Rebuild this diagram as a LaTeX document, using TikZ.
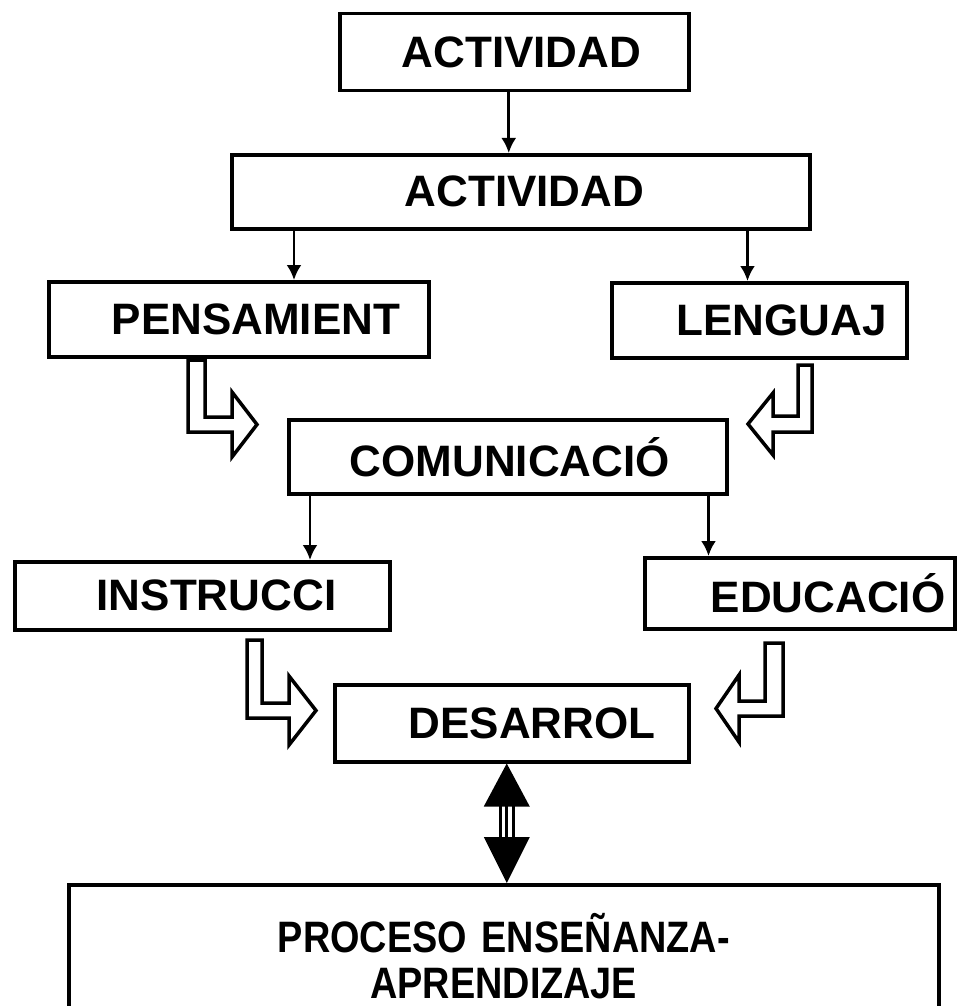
\documentclass[tikz,border=0pt]{standalone}
\usepackage{fontspec}
\setmainfont{Liberation Sans}
\newfontfamily\narrowfont[FakeStretch=0.86]{Liberation Sans}
\usetikzlibrary{arrows.meta}

\begin{document}
\begin{tikzpicture}[x=1pt,y=-1pt,>={Latex[length=15pt,width=15pt]}]
\tikzstyle{box}=[draw,line width=3.5pt,anchor=north west,inner sep=0pt,align=left,font=\bfseries\fontsize{44}{50}\selectfont]%
\tikzstyle{link}=[line width=2.7pt,->]%
\tikzstyle{hollow}=[line width=3.5pt,fill=white,line join=miter]%
\useasboundingbox (0,0) rectangle (958,1006);
% boxes
\node[box,minimum width=349pt,minimum height=77pt,text width=349pt] (act1) at (338,12) {\hspace*{62pt}ACTIVIDAD};
\node[box,minimum width=578pt,minimum height=74pt,text width=578pt] (act2) at (230,153) {\hspace*{173pt}ACTIVIDAD};
\node[box,minimum width=380pt,minimum height=75pt,text width=380pt] (pens) at (47,280) {\hspace*{63pt}PENSAMIENT};
\node[box,minimum width=295pt,minimum height=75pt,text width=295pt] (leng) at (610,281) {\hspace*{65pt}LENGUAJ};
\node[box,minimum width=438pt,minimum height=74pt,text width=438pt] (comun) at (287,418) {\hspace*{61pt}COMUNICACIÓ};
\node[box,minimum width=375pt,minimum height=68pt,text width=375pt] (instr) at (13,560) {\hspace*{82pt}INSTRUCCI};
\node[box,minimum width=310pt,minimum height=71pt,text width=310pt] (educ) at (643,556) {\hspace*{66pt}EDUCACIÓ};
\node[box,minimum width=354pt,minimum height=77pt,text width=354pt] (desar) at (333,683) {\hspace*{74pt}DESARROL};
\node[box,minimum width=870pt,minimum height=142pt,text width=870pt,align=center,font=\narrowfont\bfseries\fontsize{44}{46}\selectfont] (proc) at (67,883) {PROCESO ENSEÑANZA-\\APRENDIZAJE};
% arrows
\draw[link] ([xshift=-5.5pt]act1.south) -- ([xshift=-5.5pt]act1.south |- act2.north);
\draw[link] ([xshift=64pt]act2.south west) -- ([xshift=64pt]act2.south west |- pens.north);
\draw[link] ([xshift=-64pt]act2.south east) -- ([xshift=-64pt]act2.south east |- leng.north);
\draw[link] ([xshift=23pt]comun.south west) -- ([xshift=23pt]comun.south west |- instr.north);
\draw[link] ([xshift=-20pt]comun.south east) -- ([xshift=-20pt]comun.south east |- educ.north);
% hollow arrows
\draw[hollow] (188,360) -- (205,360) -- (205,417) -- (232,417) -- (232,392) -- (257,424.5) -- (232,457) -- (232,432) -- (188,432) -- cycle;
\draw[hollow] (812,365) -- (798,365) -- (798,416) -- (773,416) -- (773,393) -- (748,424) -- (773,455) -- (773,432) -- (812,432) -- cycle;
\draw[hollow] (247,640) -- (262,640) -- (262,703) -- (289,703) -- (289,676) -- (316,710.5) -- (289,745) -- (289,718) -- (247,718) -- cycle;
\draw[hollow] (783,643) -- (765,643) -- (765,701) -- (739,701) -- (739,675) -- (716,708.5) -- (739,742) -- (739,716) -- (783,716) -- cycle;
% double arrow
\coordinate (up) at ([xshift=-5pt]desar.south);
\coordinate (dn) at (up |- proc.north);
\fill (up) -- ++(-23,43) -- ++(46,0) -- cycle;
\fill (dn) -- ++(-23,-46) -- ++(46,0) -- cycle;
\foreach \dx in {-6.7,0,6.7}
  \draw[line width=3pt] ([shift={(\dx,42)}]up) -- ([shift={(\dx,-45)}]dn);
\end{tikzpicture}
\end{document}
